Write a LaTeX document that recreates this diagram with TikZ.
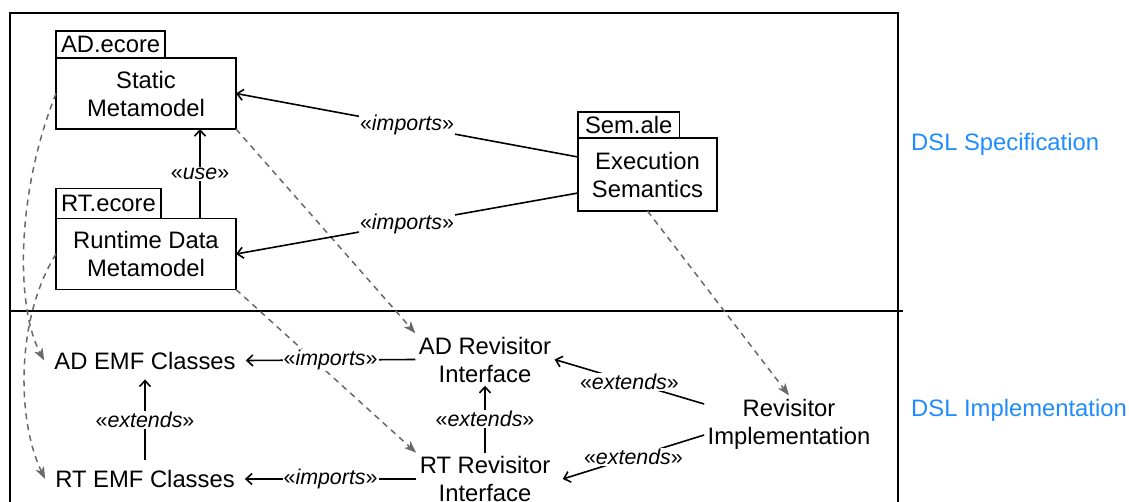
\documentclass[tikz,border=0pt]{standalone}
\usepackage{fontspec}
\setmainfont{Liberation Sans}
\usetikzlibrary{
  arrows.meta,
  positioning,
}
\definecolor{dslblue}{RGB}{30,140,255}
\definecolor{tracegray}{RGB}{105,105,105}
\newcommand{\stereofont}{\fontsize{21.4}{25}\selectfont}
\tikzstyle{model} = [
rectangle,
draw,
line width=1.6pt,
outer sep=0pt,
align=center,
minimum width=180pt,
minimum height=71pt
]
\tikzstyle{tab} = [
rectangle,
draw,
line width=1.6pt,
outer sep=0pt,
inner xsep=5pt,
inner ysep=0pt,
minimum height=27pt
]
\tikzstyle{artefact} = [align=center, inner sep=3.3pt]
\tikzstyle{emfclass} = [inner sep=10pt]
\tikzstyle{layer} = [text=dslblue, anchor=base west, inner sep=0pt]
\tikzstyle{arrow} = [draw, line width=1.6pt, -{Straight Barb[length=6pt,width=11pt]}]
\tikzstyle{stereo} = [fill=white, inner sep=1pt, font=\stereofont]
\tikzstyle{trace} = [draw, tracegray, line width=1.5pt, dash pattern=on 6pt off 5pt,
  -{Stealth[length=12pt,width=9pt,inset=3pt]}]

\begin{document}
\begin{tikzpicture}[x=1pt, y=-1pt, font=\fontsize{23.8}{28}\selectfont]
  \useasboundingbox (0,0) rectangle (1129,502);
  % Layers
  \draw[line width=1.6pt] (10,502) -- (10,13) -- (898,13) -- (898,502);
  \draw[line width=1.6pt] (10,311) -- (903,311);

  % Place nodes
  \node [model] (static) at (146,93.5) {Static\\Metamodel};
  \node [tab, above right=0pt of static.north west] (adEcore) {AD.ecore};
  \node [model] (rtmm) at (146,254) {Runtime Data\\Metamodel};
  \node [tab, minimum height=30pt, above right=0pt of rtmm.north west] (rtEcore) {RT.ecore};
  \node [model, minimum width=139pt, minimum height=73pt] (exec) at (647.5,174.5) {Execution\\Semantics};
  \node [tab, minimum height=26pt, inner xsep=7pt, above right=0pt of exec.north west] (semAle) {Sem.ale};

  \node [emfclass] (adEmf) at (145,360.5) {AD EMF Classes};
  \node [emfclass] (rtEmf) at (145,479) {RT EMF Classes};
  \node [artefact] (adRev) at (485,359.5) {AD Revisitor\\Interface};
  \node [artefact] (rtRev) at (485,479) {RT Revisitor\\Interface};
  \node [artefact] (revImpl) at (789,424) {Revisitor\\Implementation};

  \node [layer] (spec) at (911,151) {DSL Specification};
  \node [layer] (impl) at (911,416) {DSL Implementation};

  % Draw edges
  \path [trace] (static.south east) -- (adRev.north west);
  \path [trace] (rtmm.south east) -- (rtRev.north west);
  \path [trace] (exec.south) -- (revImpl.north);
  \path [trace] (static.west) .. controls +(-41,103) and +(-28,-52) .. (adEmf.west);
  \path [trace] (rtmm.west) .. controls +(-41,66) and +(-28,-58) .. (rtEmf.west);

  \path [arrow] (rtmm.north -| 200,0) -- node[stereo] {«\textit{use}»} (static.south -| 200,0);
  \path [arrow] (exec.west |- 0,157) -- node[stereo] {«\textit{imports}»} (static.east);
  \path [arrow] (exec.west |- 0,193) -- node[stereo] {«\textit{imports}»} (rtmm.east);

  \path [arrow] (adRev.west) -- node[stereo] {«\textit{imports}»} (adEmf.east);
  \path [arrow] (rtRev.west) -- node[stereo] {«\textit{imports}»} (rtEmf.east);
  \path [arrow] (rtEmf.north) -- node[stereo] {«\textit{extends}»} (adEmf.south);
  \path [arrow] (rtRev.north) -- node[stereo] {«\textit{extends}»} (adRev.south);
  \path [arrow] (revImpl.west |- 0,404) -- node[stereo] {«\textit{extends}»} (adRev.east);
  \path [arrow] (revImpl.west |- 0,435) -- node[stereo] {«\textit{extends}»} ([xshift=9pt]rtRev.east);
\end{tikzpicture}
\end{document}
